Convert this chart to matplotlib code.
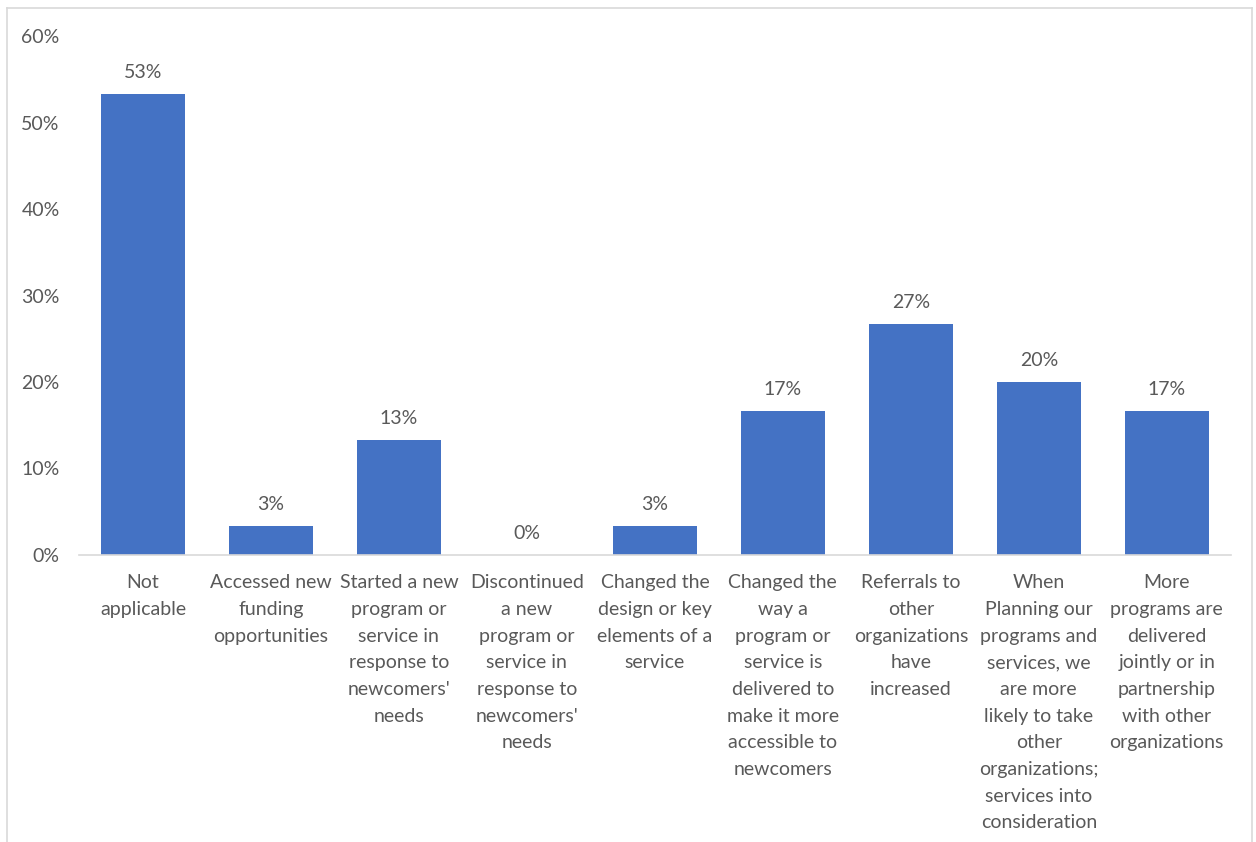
import numpy as np
import matplotlib.pyplot as plt
from matplotlib.lines import Line2D

# ----------------------------------------------------
# Data
# ----------------------------------------------------

categories = [
    "Not\napplicable",
    "Accessed new\nfunding\nopportunities",
    "Started a new\nprogram or\nservice in\nresponse to\nnewcomers'\nneeds",
    "Discontinued\na new\nprogram or\nservice in\nresponse to\nnewcomers'\nneeds",
    "Changed the\ndesign or key\nelements of a\nservice",
    "Changed the\nway a\nprogram or\nservice is\ndelivered to\nmake it more\naccessible to\nnewcomers",
    "Referrals to\nother\norganizations\nhave\nincreased",
    "When\nPlanning our\nprograms and\nservices, we\nare more\nlikely to take\nother\norganizations;\nservices into\nconsideration",
    "More\nprograms are\ndelivered\njointly or in\npartnership\nwith other\norganizations",
]

values = [53.33, 3.33, 13.33, 0.0, 3.33, 16.67, 26.67, 20.0, 16.67]

yticks = [0, 10, 20, 30, 40, 50, 60]

# ----------------------------------------------------
# Style
# ----------------------------------------------------

plt.rcParams["font.family"] = ["Lato", "DejaVu Sans"]
text_color = "#595959"
bar_color = "#4472C4"

fig = plt.figure(figsize=(12.56, 8.42), dpi=100)
ax = fig.add_axes([0.0629, 0.341, 0.917, 0.616])

x = np.arange(len(categories))

ax.bar(x, values, width=0.66, color=bar_color, zorder=2)

# value labels above each bar
for xi, v in zip(x, values):
    ax.text(xi, v + 1.5, f"{v:.0f}%", ha="center", va="bottom",
            fontsize=14, color=text_color)

ax.set_xlim(-0.5, len(categories) - 0.5)
ax.set_ylim(0, 60)

ax.set_yticks(yticks)
ax.set_yticklabels([f"{t}%" for t in yticks])
ax.set_xticks(x)
ax.set_xticklabels(categories, linespacing=1.69)

ax.tick_params(axis="y", length=0, pad=14, labelsize=14, labelcolor=text_color)
ax.tick_params(axis="x", length=0, pad=14, labelsize=14, labelcolor=text_color)

for side in ["top", "right", "left"]:
    ax.spines[side].set_visible(False)
ax.spines["bottom"].set_color("#d9d9d9")
ax.spines["bottom"].set_linewidth(1.2)

# light frame around the chart area
W, H = 1256, 842
frame = dict(color="#d9d9d9", linewidth=1.2, transform=fig.transFigure)
fig.add_artist(Line2D([7 / W, 1252 / W], [1 - 8 / H, 1 - 8 / H], **frame))
fig.add_artist(Line2D([7 / W, 7 / W], [0, 1 - 8 / H], **frame))
fig.add_artist(Line2D([1252 / W, 1252 / W], [0, 1 - 8 / H], **frame))

fig.savefig("out.png", dpi=100)
